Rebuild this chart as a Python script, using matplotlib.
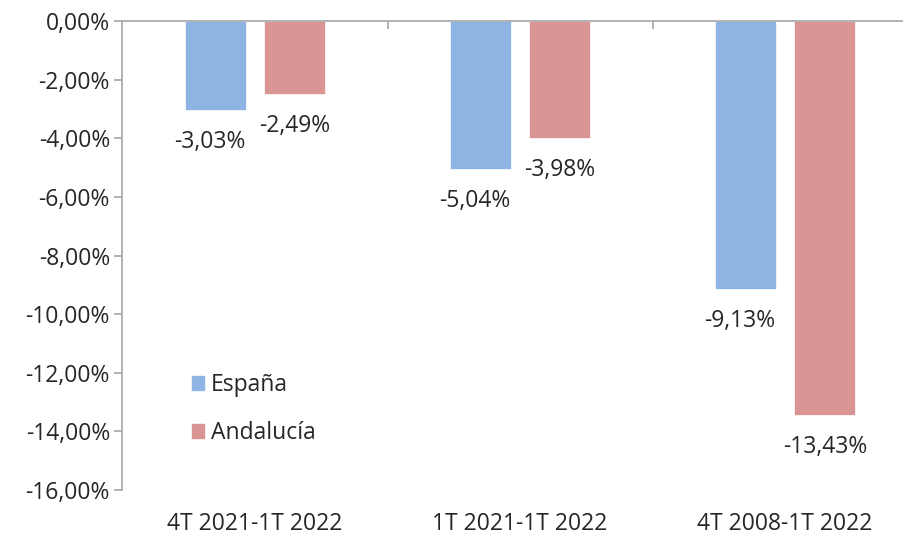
import matplotlib.pyplot as plt
from matplotlib.patches import Patch
import numpy as np

plt.rcParams['font.family'] = ['Open Sans', 'DejaVu Sans']

categories = ["4T 2021-1T 2022", "1T 2021-1T 2022", "4T 2008-1T 2022"]
espana = [-3.03, -5.04, -9.13]
andalucia = [-2.49, -3.98, -13.43]
series_names = ["España", "Andalucía"]
colors = ["#8EB4E3", "#D99594"]
yticks = np.arange(0, -17, -2)

def fmt(v):
    return f"{v:.2f}%".replace(".", ",")

fig = plt.figure(figsize=(9.04, 5.38), dpi=100)
ax = fig.add_axes([122.5 / 904, 1 - 490 / 538, 795 / 904, 469 / 538])

x = np.arange(len(categories))
w = 0.23
b1 = ax.bar(x - 0.15, espana, w, color=colors[0], edgecolor="white", linewidth=0.5)
b2 = ax.bar(x + 0.15, andalucia, w, color=colors[1], edgecolor="white", linewidth=0.5)

fs = 16.5
for bars, vals, dx in [(b1, espana, -4), (b2, andalucia, 0)]:
    for rect, v in zip(bars, vals):
        ax.annotate(fmt(v), (rect.get_x() + rect.get_width() / 2, v),
                    xytext=(dx, -23), textcoords="offset points",
                    ha="center", va="center", fontsize=fs, color="#262626")

ax.set_xlim(-0.5, 2.5)
ax.set_ylim(-16, 0)
ax.set_yticks(yticks)
ax.set_yticklabels([fmt(v) for v in yticks], fontsize=fs, color="#262626")
ax.set_xticks(x)
ax.set_xticklabels(categories, fontsize=fs, color="#262626")
ax.tick_params(axis="x", length=0, pad=16)
ax.tick_params(axis="y", length=6, color="#A6A6A6", width=1.2, pad=3)
ax.set_xticks([0.5, 1.5], minor=True)
ax.tick_params(axis="x", which="minor", top=True, bottom=False,
               direction="in", length=6, color="#A6A6A6", width=1.2)

for s in ["right", "bottom"]:
    ax.spines[s].set_visible(False)
for s in ["left", "top"]:
    ax.spines[s].set_color("#A6A6A6")
    ax.spines[s].set_linewidth(1.2)

handles = [Patch(color=c, label=n) for c, n in zip(colors, series_names)]
ax.legend(handles=handles, loc="upper left", bbox_to_anchor=(0.061, 0.294),
          frameon=False, fontsize=fs, handlelength=0.55, handleheight=0.55,
          handletextpad=0.3, labelspacing=1.05, labelcolor="#262626")

fig.savefig("out.png", dpi=100)
